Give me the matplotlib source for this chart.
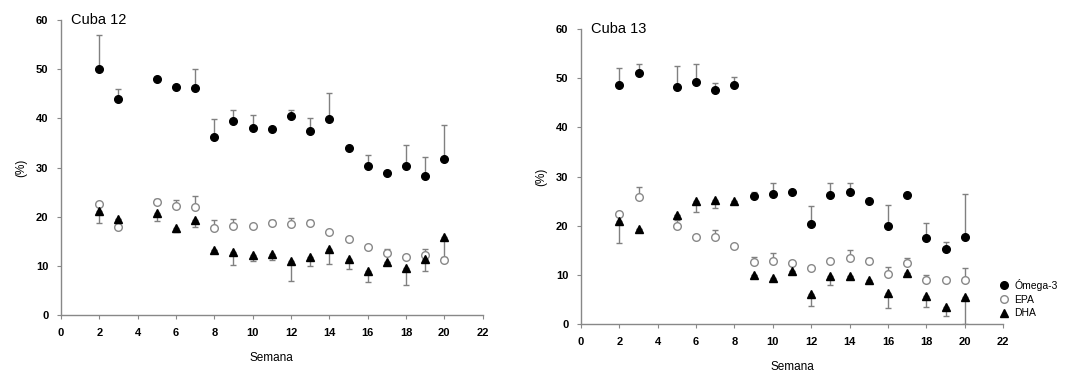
import numpy as np
import matplotlib
matplotlib.use("Agg")
import matplotlib.pyplot as plt

plt.rcParams['font.family'] = ['Liberation Sans', 'DejaVu Sans']

semanas = [2, 3, 5, 6, 7, 8, 9, 10, 11, 12, 13, 14, 15, 16, 17, 18, 19, 20]

# Cuba 12
om12 = [50, 44, 48, 46.5, 46.3, 36.2, 39.5, 38, 37.9, 40.5, 37.5, 39.8, 34, 30.4, 28.9, 30.3, 28.3, 31.8]
om12_sd = [7, 2, 0, 0, 3.7, 3.6, 2.2, 2.8, 0, 1.3, 2.6, 5.3, 0, 2.2, 0, 4.3, 3.8, 6.8]
epa12 = [22.6, 18, 23, 22.3, 21.9, 17.8, 18.2, 18.1, 18.8, 18.5, 18.8, 16.9, 15.5, 13.9, 12.6, 11.9, 12.2, 11.2]
epa12_sd = [0, 0, 0.6, 1.1, 2.4, 1.5, 1.4, 0, 0.6, 1.3, 0.6, 0, 0, 0, 0.8, 0, 1.3, 0]
dha12 = [21.2, 19.6, 20.8, 17.7, 19.3, 13.2, 12.9, 12.2, 12.5, 11.0, 11.9, 13.5, 11.5, 8.9, 10.9, 9.6, 11.4, 15.9]
dha12_sd = [2.4, 0, 1.6, 0.7, 1.3, 0, 2.7, 1.2, 1.3, 4.1, 1.9, 3, 2.2, 2.1, 0, 3.5, 2.4, 4]

# Cuba 13
om13 = [48.6, 51, 48.2, 49.2, 47.6, 48.7, 26, 26.5, 26.8, 20.3, 26.3, 26.8, 25.1, 19.9, 26.3, 17.5, 15.2, 17.7]
om13_sd = [3.4, 2, 4.2, 3.8, 1.5, 1.6, 0.9, 2.2, 0, 3.8, 2.4, 2, 0, 4.4, 0, 3, 1.6, 8.8]
epa13 = [22.4, 25.9, 19.9, 17.8, 17.8, 15.9, 12.6, 12.9, 12.4, 11.4, 12.9, 13.4, 12.9, 10.1, 12.4, 9, 9, 9]
epa13_sd = [0.5, 2, 1.3, 0, 1.4, 0, 1.1, 1.6, 0.5, 0, 0, 1.7, 0.6, 1.5, 1, 1, 0, 2.4]
dha13 = [20.9, 19.4, 22.2, 25, 25.3, 25, 9.9, 9.3, 10.9, 6.1, 9.7, 9.7, 9, 6.3, 10.3, 5.8, 3.5, 5.5]
dha13_sd = [4.3, 0, 0, 2.2, 1.7, 0, 0, 0.5, 0, 2.5, 1.7, 0, 0.5, 3.1, 0, 2.4, 1.9, 5.5]

xticks = [0, 2, 4, 6, 8, 10, 12, 14, 16, 18, 20, 22]
yticks = [0, 10, 20, 30, 40, 50, 60]

fig = plt.figure(figsize=(10.66, 3.73), dpi=100)
ax1 = fig.add_axes([0.0572, 0.155, 0.3956, 0.791])
ax2 = fig.add_axes([0.545, 0.131, 0.396, 0.791])

ecol = '#808080'


def panel(ax, titulo, om, om_sd, epa, epa_sd, dha, dha_sd):
    x = np.array(semanas)
    z = np.zeros(len(x))
    # error bars (one sided)
    ax.errorbar(x, om, yerr=[z, om_sd], fmt='none', ecolor=ecol, elinewidth=1, capsize=2, zorder=1)
    ax.errorbar(x, epa, yerr=[z, epa_sd], fmt='none', ecolor=ecol, elinewidth=1, capsize=2, zorder=1)
    ax.errorbar(x, dha, yerr=[dha_sd, z], fmt='none', ecolor=ecol, elinewidth=1, capsize=2, zorder=1)
    ax.plot(x, om, 'o', color='black', markersize=5.5, label='Ómega-3', zorder=3)
    ax.plot(x, epa, 'o', mfc='white', mec='#888888', mew=1, markersize=5.5, label='EPA', zorder=2)
    ax.plot(x, dha, '^', color='black', markersize=5.5, label='DHA', zorder=3)

    ax.set_xlim(0, 22)
    ax.set_ylim(0, 60)
    ax.set_xticks(xticks)
    ax.set_yticks(yticks)
    for s in ['top', 'right']:
        ax.spines[s].set_visible(False)
    for s in ['left', 'bottom']:
        ax.spines[s].set_color('#888888')
        ax.spines[s].set_linewidth(1)
    ax.tick_params(direction='out', length=3, color='#888888', labelsize=8, pad=6)
    for lab in ax.get_xticklabels() + ax.get_yticklabels():
        lab.set_fontweight('bold')
    ax.set_xlabel('Semana', fontsize=8.5, labelpad=10)
    ax.set_ylabel('(%)', fontsize=8.5, labelpad=6)
    ax.text(0.5, 60, titulo, fontsize=10.5, va='center', ha='left')


panel(ax1, 'Cuba 12', om12, om12_sd, epa12, epa12_sd, dha12, dha12_sd)
panel(ax2, 'Cuba 13', om13, om13_sd, epa13, epa13_sd, dha13, dha13_sd)

ax2.legend(loc='lower left', bbox_to_anchor=(0.99, 0.02), frameon=False, fontsize=7.5,
           handletextpad=0.5, labelspacing=0.35, handlelength=1.0, borderaxespad=0,
           borderpad=0)

fig.savefig('out.png', dpi=100)
